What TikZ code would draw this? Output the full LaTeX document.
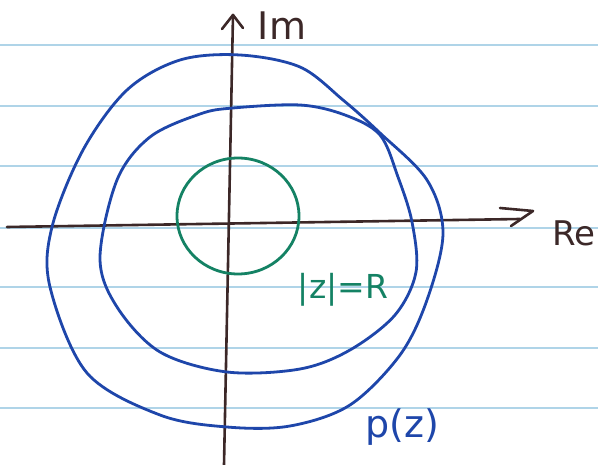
\documentclass[tikz,border=0pt]{standalone}
\usepackage{fontspec}
\setmainfont{DejaVu Sans}
\usetikzlibrary{shapes.geometric}
\definecolor{rule}{RGB}{175,212,232}
\definecolor{ink}{RGB}{60,40,40}
\definecolor{pen}{RGB}{30,70,170}
\definecolor{grn}{RGB}{20,130,100}
\tikzset{
  ruleline/.style={draw=rule, line width=1.4pt},
  axis/.style={draw=ink, line width=2.6pt, line cap=round, line join=round},
  bluecurve/.style={draw=pen, line width=2.8pt},
  lbl/.style={inner sep=0pt, font=\fontsize{38}{42}\selectfont}
}
\begin{document}
\begin{tikzpicture}[x=1pt,y=-1pt]
\useasboundingbox[fill=white] (0,0) rectangle (598,465);
% ruled paper lines
\foreach \yy in {45,106,166,228,287,348,408}
  \draw[ruleline] (0,\yy) -- (598,\yy);
% coordinates of the axes
\coordinate (xl) at (7,227);
\coordinate (xr) at (520,219);
\coordinate (yb) at (224,465);
\coordinate (yt) at (233,15);
% real axis
\draw[axis] (xl) -- (xr);
\draw[axis] (500,208) -- (533,211) -- (511,226);
% imaginary axis
\draw[axis] (yb) -- (yt);
\draw[axis] (222,29) -- (yt) -- (243,28);
% outer curve
\draw[bluecurve] plot[smooth cycle, tension=0.55] coordinates {
 (240,55) (300,67) (343,100) (380,133) (427,180)
 (443,233) (427,300) (400,355) (350,405)
 (290,426) (227,427) (160,415) (87,373)
 (50,287) (52,227) (83,150) (127,90) (180,60)};
% middle curve
\draw[bluecurve] plot[smooth cycle, tension=0.55] coordinates {
 (233,108) (300,105) (345,115) (380,135) (398,177) (412,222)
 (416,272) (395,315) (350,350) (300,369) (227,372)
 (160,352) (117,307) (100,258) (117,180) (150,137) (200,114)};
% green circle
\node[draw=grn, line width=2.8pt, ellipse, minimum width=122pt, minimum height=116pt, inner sep=0pt] (c) at (238,216) {};
% labels
\node[lbl, text=ink] (im) at (282,26) {Im};
\node[lbl, text=ink, anchor=east, font=\fontsize{34}{38}\selectfont] (re) at (596,233) {Re};
\node[lbl, text=grn, font=\fontsize{33}{36}\selectfont] (zr) at (343,290) {|z|=R};
\node[lbl, text=pen] (pz) at (402,427) {p(z)};
\end{tikzpicture}
\end{document}
